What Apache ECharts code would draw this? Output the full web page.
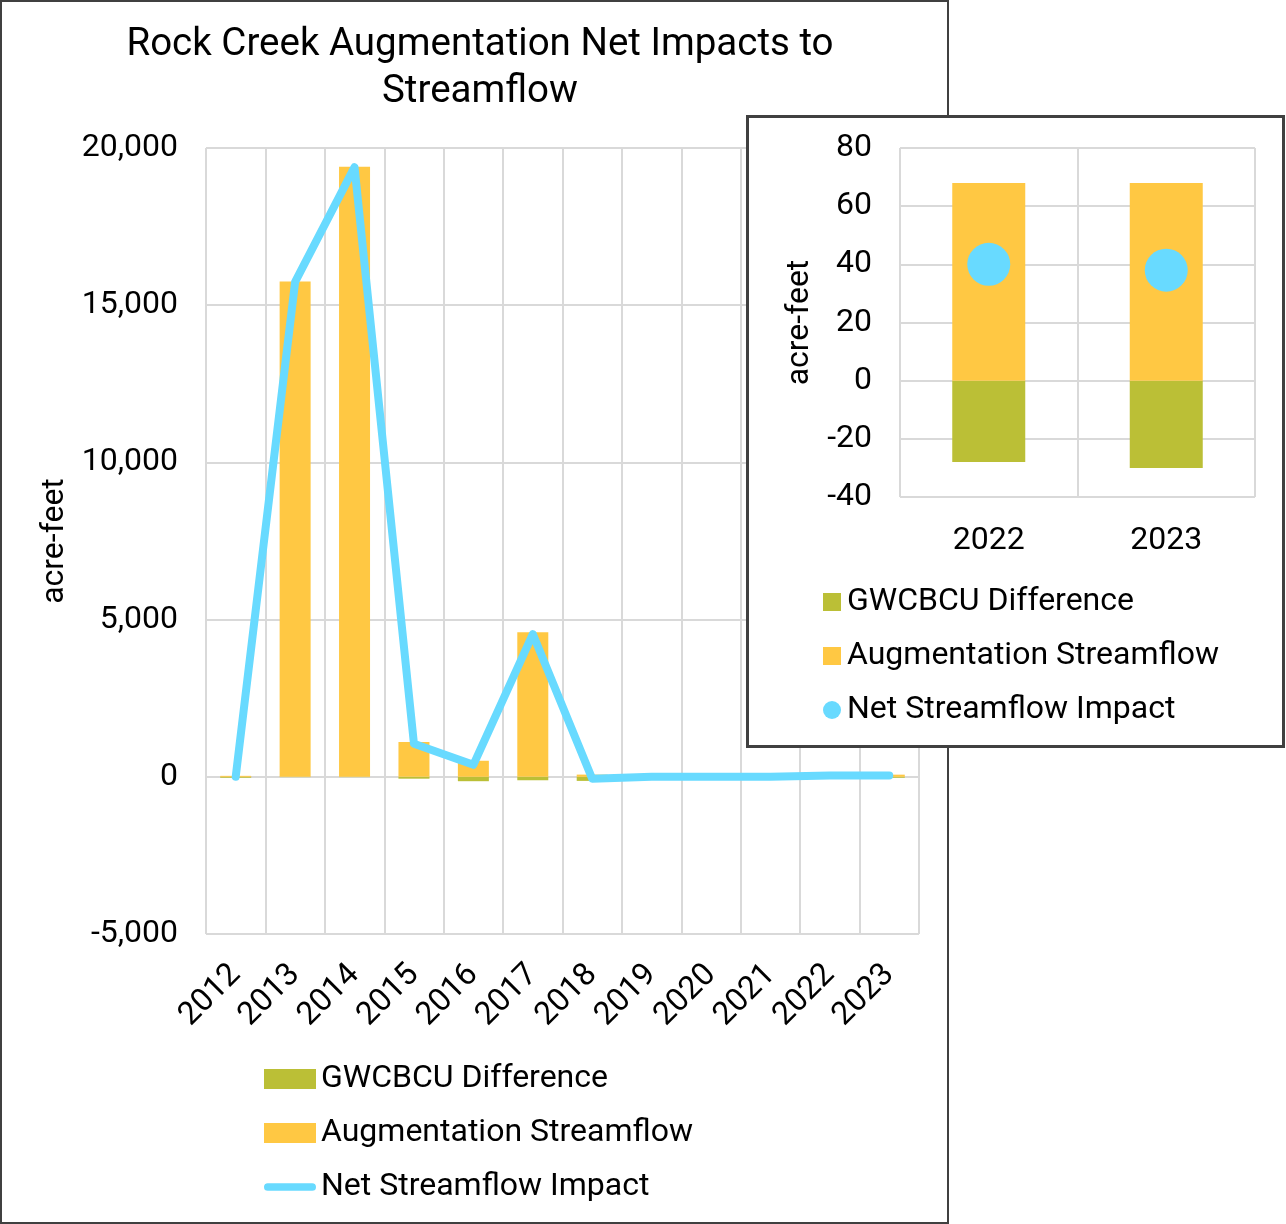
<!DOCTYPE html>
<html lang="en">
  <head>
    <meta charset="UTF-8" />
    <title>Rock Creek Augmentation Net Impacts to Streamflow</title>
    <style>
      * {
        padding: 0;
        margin: 0;
        box-sizing: border-box;
      }
      body {
        background: #fff;
        width: 1286px;
        height: 1224px;
        position: relative;
        overflow: hidden;
      }
      #main {
        position: absolute;
        left: 0;
        top: 0;
        width: 949px;
        height: 1224px;
        border: 2px solid #404040;
        background: #fff;
      }
      #inset {
        position: absolute;
        left: 746px;
        top: 115px;
        width: 539px;
        height: 633px;
        border: 3px solid #404040;
        background: #fff;
      }
      .chart {
        width: 100%;
        height: 100%;
      }
    </style>
    <script src="https://cdn.jsdelivr.net/npm/echarts@6/dist/echarts.min.js"></script>
  </head>
  <body>
    <div id="main"><div class="chart" id="mainChart"></div></div>
    <div id="inset"><div class="chart" id="insetChart"></div></div>
  </body>
  <script>
    // data (acre-feet)
    const years = ["2012", "2013", "2014", "2015", "2016", "2017", "2018", "2019", "2020", "2021", "2022", "2023"];
    const gwcbcu = [-30, -10, -10, -60, -140, -110, -130, 0, 0, 0, -28, -30];
    const augmentation = [30, 15750, 19400, 1110, 510, 4600, 70, 0, 0, 0, 68, 68];
    const netImpact = [0, 15740, 19390, 1050, 380, 4540, -60, 0, 0, 0, 40, 38];

    const insetYears = ["2022", "2023"];
    const insetGwcbcu = [-28, -30];
    const insetAugmentation = [68, 68];
    const insetNet = [40, 38];

    const GREEN = "#BBBF36";
    const YELLOW = "#FFC843";
    const BLUE = "#68DAFF";
    const FONT = "Roboto";
    const GRID = "#d9d9d9";

    const textStyle = { fontFamily: FONT, fontSize: 32, color: "#000" };
    const lineIcon = "path://M4,0 H50 A4,4 0 0 1 50,8 H4 A4,4 0 0 1 4,0 Z";

    // main chart
    const mainChart = echarts.init(document.getElementById("mainChart"));
    mainChart.setOption({
      animation: false,
      textStyle: { fontFamily: FONT },
      title: {
        text: "Rock Creek Augmentation Net Impacts to\nStreamflow",
        left: 473,
        textAlign: "center",
        top: 15,
        textStyle: {
          fontFamily: FONT,
          fontSize: 38.5,
          fontWeight: "normal",
          color: "#000",
          lineHeight: 47,
        },
      },
      legend: {
        orient: "vertical",
        left: 257,
        top: 1056,
        itemWidth: 52,
        itemHeight: 20,
        itemGap: 22,
        textStyle: { fontFamily: FONT, fontSize: 32, color: "#000" },
        data: [
          { name: "GWCBCU Difference", icon: "rect" },
          { name: "Augmentation Streamflow", icon: "rect" },
          { name: "Net Streamflow Impact", icon: lineIcon },
        ],
      },
      grid: { left: 204, right: 28, top: 146, bottom: 288, containLabel: false },
      xAxis: {
        type: "category",
        data: years,
        boundaryGap: true,
        axisLine: { show: false },
        axisTick: { show: false },
        splitLine: { show: true, interval: 0, lineStyle: { color: GRID, width: 2 } },
        axisLabel: { ...textStyle, rotate: 45, margin: 36, interval: 0 },
      },
      yAxis: {
        type: "value",
        min: -5000,
        max: 20000,
        interval: 5000,
        name: "acre-feet",
        nameLocation: "middle",
        nameRotate: 90,
        nameGap: 134,
        nameTextStyle: textStyle,
        axisLine: { show: false },
        axisTick: { show: false },
        splitLine: { lineStyle: { color: GRID, width: 2 } },
        axisLabel: {
          ...textStyle,
          margin: 28,
          formatter: (v) => v.toLocaleString("en-US"),
        },
      },
      series: [
        {
          name: "GWCBCU Difference",
          type: "bar",
          stack: "a",
          barWidth: 31,
          itemStyle: { color: GREEN },
          data: gwcbcu,
        },
        {
          name: "Augmentation Streamflow",
          type: "bar",
          stack: "a",
          barWidth: 31,
          itemStyle: { color: YELLOW },
          data: augmentation,
        },
        {
          name: "Net Streamflow Impact",
          type: "line",
          showSymbol: false,
          symbol: "none",
          z: 5,
          itemStyle: { color: BLUE },
          lineStyle: { color: BLUE, width: 8, cap: "round", join: "round" },
          data: netImpact,
        },
      ],
    });

    // inset chart for 2022-2023
    const insetChart = echarts.init(document.getElementById("insetChart"));
    insetChart.setOption({
      animation: false,
      textStyle: { fontFamily: FONT },
      legend: {
        orient: "vertical",
        left: 69,
        top: 463,
        itemWidth: 18,
        itemHeight: 18,
        itemGap: 22,
        textStyle: { fontFamily: FONT, fontSize: 32, color: "#000", padding: [0, 0, 0, 1] },
        data: [
          { name: "GWCBCU Difference", icon: "rect" },
          { name: "Augmentation Streamflow", icon: "rect" },
          { name: "Net Streamflow Impact", icon: "circle" },
        ],
      },
      grid: { left: 151, right: 27, top: 30, bottom: 248, containLabel: false },
      xAxis: {
        type: "category",
        data: insetYears,
        boundaryGap: true,
        axisLine: { show: false },
        axisTick: { show: false },
        splitLine: { show: true, interval: 0, lineStyle: { color: GRID, width: 2 } },
        axisLabel: { ...textStyle, margin: 28 },
      },
      yAxis: {
        type: "value",
        min: -40,
        max: 80,
        interval: 20,
        name: "acre-feet",
        nameLocation: "middle",
        nameRotate: 90,
        nameGap: 83,
        nameTextStyle: textStyle,
        axisLine: { show: false },
        axisTick: { show: false },
        splitLine: { lineStyle: { color: GRID, width: 2 } },
        axisLabel: { ...textStyle, margin: 28 },
      },
      series: [
        {
          name: "GWCBCU Difference",
          type: "bar",
          stack: "a",
          barWidth: 73,
          itemStyle: { color: GREEN },
          data: insetGwcbcu,
        },
        {
          name: "Augmentation Streamflow",
          type: "bar",
          stack: "a",
          barWidth: 73,
          itemStyle: { color: YELLOW },
          data: insetAugmentation,
        },
        {
          name: "Net Streamflow Impact",
          type: "scatter",
          symbolSize: 43,
          z: 5,
          itemStyle: { color: BLUE, opacity: 1 },
          data: insetNet,
        },
      ],
    });
  </script>
</html>
